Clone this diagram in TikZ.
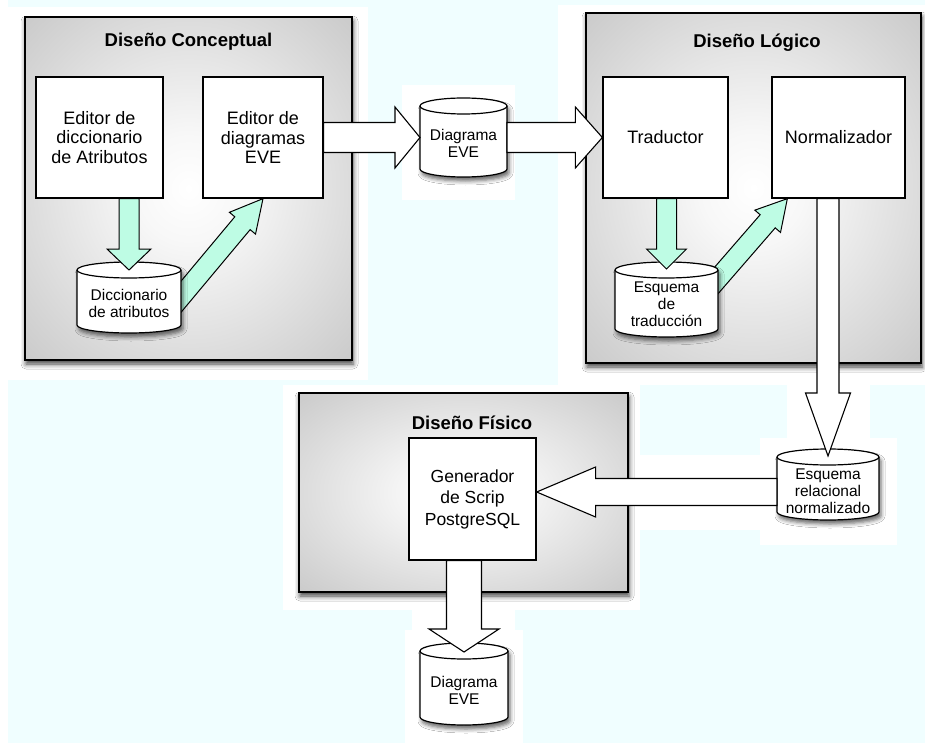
\documentclass[tikz,border=0pt]{standalone}
\usepackage{fontspec}
\setmainfont{Liberation Sans}
\usetikzlibrary{calc,shadows.blur}

\definecolor{bgcyan}{RGB}{240,254,255}
\definecolor{flowgreen}{RGB}{190,252,228}
\pgfdeclareradialshading{groupshade}{\pgfpoint{0bp}{0bp}}{%
  color(0bp)=(white); color(8bp)=(white!97!black);
  color(50bp)=(black!30); color(72bp)=(black!40); color(100bp)=(black!40)}

% height of the elliptic cap of a database cylinder
\newcommand\capry{8pt}

% database cylinder drawn round an (invisible) node
\newcommand\dbcyl[1]{%
  \path[dbshape] let \p1=(#1.north west), \p2=(#1.south east), \n1={(\x2-\x1)/2} in
    (\x1,\y1-\capry) -- (\x1,\y2+\capry)
    arc[start angle=180,end angle=360,x radius=\n1,y radius=\capry]
    -- (\x2,\y1-\capry)
    arc[start angle=0,end angle=180,x radius=\n1,y radius=\capry] -- cycle;
  \draw[dbrim] let \p1=(#1.north west), \p2=(#1.south east), \n1={(\x2-\x1)/2} in
    (\x1,\y1-\capry) arc[start angle=180,end angle=360,x radius=\n1,y radius=\capry];
}

% block arrow: style, from, to, half shaft width, half head width, head length
\newcommand\blockarrow[6]{%
  \coordinate (ba-h) at ($(#3)!#6!(#2)$);
  \draw[#1] ($(#2)!#4!90:(#3)$) -- ($(ba-h)!#4!-90:(#2)$) -- ($(ba-h)!#5!-90:(#2)$)
    -- (#3) -- ($(ba-h)!#5!90:(#2)$) -- ($(ba-h)!#4!90:(#2)$)
    -- ($(#2)!#4!-90:(#3)$) -- cycle;
}

\begin{document}
\begin{tikzpicture}[x=1pt,y=1pt,
  group/.style={draw=black, line width=1.6pt, shading=groupshade, inner sep=0pt,
    blur shadow={shadow xshift=1pt, shadow yshift=-4pt, shadow blur radius=5pt, shadow opacity=75}},
  title/.style={font=\fontsize{18.5}{20}\selectfont\bfseries, inner sep=0pt},
  box/.style={draw=black, line width=1.3pt, fill=white, align=center, inner sep=0pt,
    font=\fontsize{18}{19.5}\selectfont},
  dbnode/.style={inner sep=0pt, outer sep=0pt},
  dbshape/.style={draw=black, line width=1.2pt, fill=white,
    blur shadow={shadow xshift=2pt, shadow yshift=-4pt, shadow blur radius=4pt, shadow opacity=60}},
  dbrim/.style={draw=black, line width=1.2pt},
  dbtext/.style={align=center, inner sep=0pt, font=\fontsize{15.5}{17}\selectfont},
  warrow/.style={draw=black, line width=1.1pt, fill=white, line join=miter},
  garrow/.style={draw=black, line width=1pt, fill=flowgreen, line join=miter}]

\useasboundingbox (0,0) rectangle (925,-743);

% page background
\fill[bgcyan] (0,0) rectangle (925,-743);
\fill[white] (0,0) rectangle (8,-743);
\fill[white] (8,-7) rectangle (368,-380);
\fill[white] (402,-85) rectangle (515,-200);
\fill[white] (558,-5) rectangle (925,-385);
\fill[white] (787,-385) rectangle (870,-438);
\fill[white] (760,-438) rectangle (897,-545);
\fill[white] (628,-455) rectangle (777,-530);
\fill[white] (283,-385) rectangle (640,-610);
\fill[white] (412,-610) rectangle (515,-630);
\fill[white] (405,-630) rectangle (523,-743);

% design stages
\node[group, minimum width=327, minimum height=343] (grpC) at (188.5,-188.5) {};
\node[group, minimum width=335, minimum height=350] (grpL) at (753.5,-188) {};
\node[group, minimum width=329, minimum height=199] (grpF) at (463.5,-492.5) {};
\node[title] (tC) at (188.5,-42) {Diseño Conceptual};
\node[title] (tL) at (757,-43) {Diseño Lógico};
\node[title] (tF) at (472,-423) {Diseño Físico};

% tools
\node[box, minimum width=127, minimum height=121] (ed1) at (99.5,-137.5) {Editor de\\diccionario\\de Atributos};
\node[box, minimum width=120, minimum height=121] (ed2) at (263,-137.5) {Editor de\\diagramas\\EVE};
\node[box, minimum width=125, minimum height=121] (trad) at (665.5,-137.5) {Traductor};
\node[box, minimum width=133, minimum height=121] (norm) at (838.5,-137.5) {Normalizador};
\node[box, minimum width=127, minimum height=122, font=\fontsize{17.5}{21.5}\selectfont] (gen) at (472.5,-499) {Generador\\de Scrip\\PostgreSQL};

% stores
\node[dbnode, minimum width=104, minimum height=71] (dicc) at (129,-297.5) {};
\node[dbnode, minimum width=87, minimum height=79] (eve1) at (463.5,-137.5) {};
\node[dbnode, minimum width=103, minimum height=75] (esq) at (666.5,-299.5) {};
\node[dbnode, minimum width=102, minimum height=71] (rel) at (828,-484.5) {};
\node[dbnode, minimum width=88, minimum height=82] (eve2) at (464,-684) {};

% arrow ends
\coordinate (g1s) at (dicc.north |- ed1.south);
\coordinate (g1e) at ($(dicc.north)+(0,-8)$);
\coordinate (g2s) at ($(dicc.east)+(-14,-16)$);
\coordinate (g3s) at (esq.north |- trad.south);
\coordinate (g3e) at ($(esq.north)+(0,-7)$);
\coordinate (g4s) at ($(esq.east)+(-13,6)$);
\coordinate (g4e) at ($(norm.south west)+(16,0)$);
\coordinate (w3s) at (rel.north |- norm.south);
\coordinate (w3e) at ($(rel.north)+(0,-7)$);
\coordinate (w4s) at ($(rel.west)+(0,-7.5)$);
\coordinate (w4e) at (gen.east |- w4s);
\coordinate (w5s) at (eve2.north |- gen.south);
\coordinate (w5e) at ($(eve2.north)+(0,-9)$);

% arrows leaving a store from its side
\blockarrow{garrow}{g2s}{ed2.south}{10pt}{17pt}{32pt}
\blockarrow{garrow}{g4s}{g4e}{10pt}{17pt}{30pt}

% store cylinders and their labels
\dbcyl{dicc}
\dbcyl{eve1}
\dbcyl{esq}
\dbcyl{rel}
\dbcyl{eve2}
\node[dbtext] (dicc-t) at ($(dicc.center)+(0,-6)$) {Diccionario\\de atributos};
\node[dbtext] (eve1-t) at ($(eve1.center)+(0,-6)$) {Diagrama\\EVE};
\node[dbtext] (esq-t) at ($(esq.center)+(0,-5)$) {Esquema\\de\\traducción};
\node[dbtext] (rel-t) at ($(rel.center)+(0,-7)$) {Esquema\\relacional\\normalizado};
\node[dbtext] (eve2-t) at ($(eve2.center)+(0,-6)$) {Diagrama\\EVE};

% arrows into stores
\blockarrow{garrow}{g1s}{g1e}{10pt}{22pt}{21pt}
\blockarrow{garrow}{g3s}{g3e}{10pt}{20pt}{20pt}

% data flow between stages
\blockarrow{warrow}{ed2.east}{eve1.west}{15pt}{30.5pt}{25pt}
\blockarrow{warrow}{eve1.east}{trad.west}{15pt}{30.5pt}{27pt}
\blockarrow{warrow}{w3s}{w3e}{11pt}{22.5pt}{63pt}
\blockarrow{warrow}{w4s}{w4e}{13.5pt}{25pt}{59pt}
\blockarrow{warrow}{w5s}{w5e}{17.5pt}{35pt}{23pt}

\end{tikzpicture}
\end{document}
